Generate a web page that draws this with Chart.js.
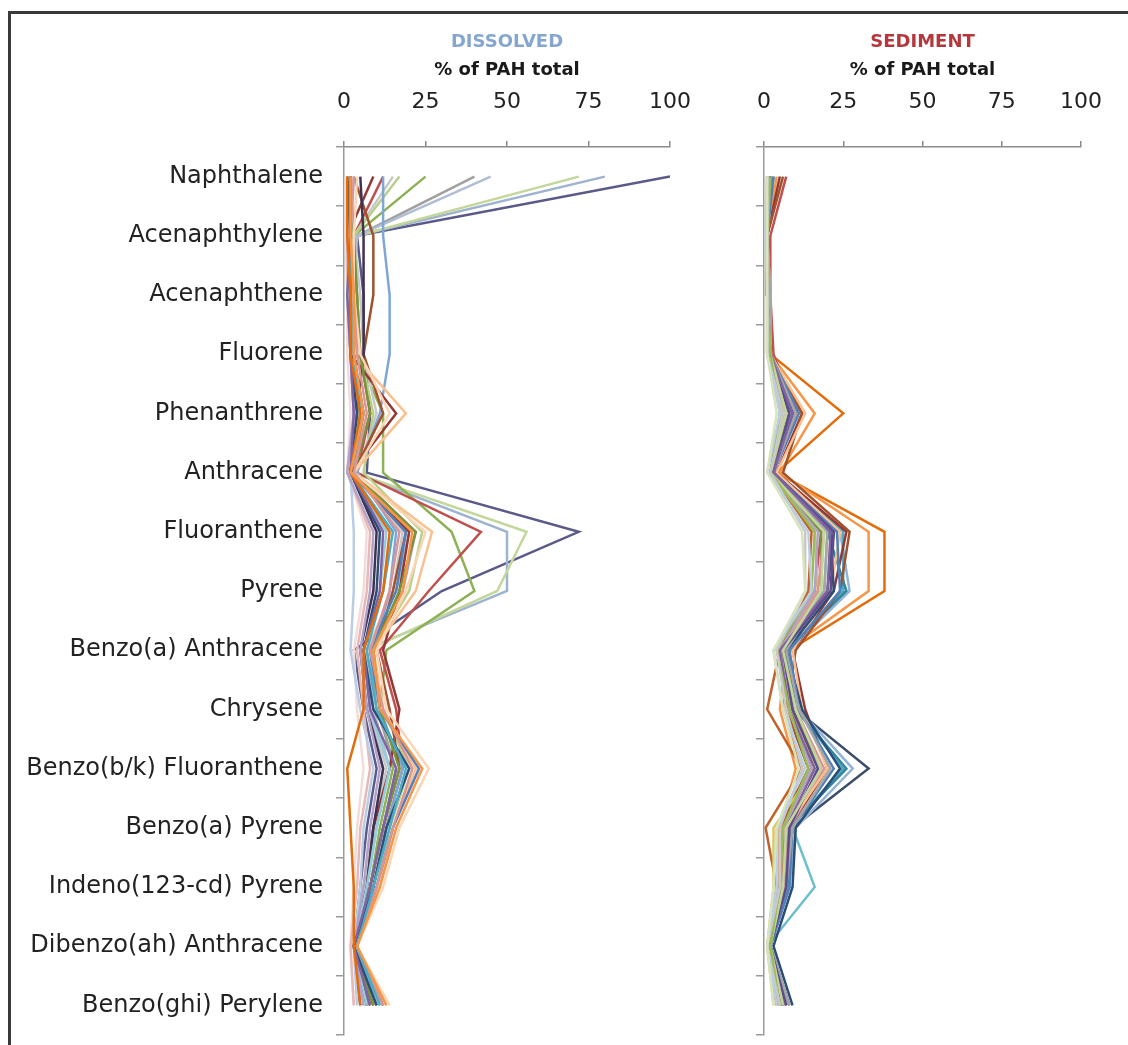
<!DOCTYPE html>
<html><head><meta charset="utf-8">
<script src="https://cdn.jsdelivr.net/npm/chart.js@4.4.0/dist/chart.umd.min.js"></script>
<style>
html,body{margin:0;padding:0;background:#fff;}
#wrap{position:relative;width:1128px;height:1045px;overflow:hidden;background:#fff;}
#frame{position:absolute;left:8px;top:11px;width:1130px;height:1040px;border-top:3px solid #3a3a3a;border-left:3px solid #3a3a3a;box-sizing:border-box;pointer-events:none;}
canvas{position:absolute;top:0;}
#c1{left:0;} #c2{left:720px;}
</style></head><body>
<div id="wrap">
<canvas id="c1" width="720" height="1045"></canvas>
<canvas id="c2" width="408" height="1045"></canvas>
<div id="frame"></div>
</div>
<script>
// ---------- DATA ----------
const categories = ["Naphthalene","Acenaphthylene","Acenaphthene","Fluorene","Phenanthrene","Anthracene","Fluoranthene","Pyrene","Benzo(a) Anthracene","Chrysene","Benzo(b/k) Fluoranthene","Benzo(a) Pyrene","Indeno(123-cd) Pyrene","Dibenzo(ah) Anthracene","Benzo(ghi) Perylene"];
const xTicks = [0, 25, 50, 75, 100];
const panelTitles = ["DISSOLVED", "SEDIMENT"];
const axisTitle = "% of PAH total";

// dissolved samples (% of PAH total per compound)
const dissolvedRows = [
  [2, 2, 3, 3, 6, 2, 21, 18, 9, 11, 24, 16, 11, 4, 13],
  [1, 1, 2, 2, 5, 2, 14, 12, 6, 6, 1, 2, 3, 3, 5],
  [2, 2, 1, 2, 3, 2, 12, 11, 6, 8, 16, 12, 8, 3, 8],
  [2, 2, 2, 3, 5, 2, 15, 12, 7, 10, 19, 14, 9, 4, 11],
  [1, 2, 2, 2, 4, 2, 11, 10, 6, 9, 20, 13, 9, 3, 10],
  [3, 2, 3, 4, 7, 3, 17, 14, 8, 12, 21, 15, 10, 4, 12],
  [4, 3, 3, 5, 14, 3, 25, 19, 10, 13, 26, 17, 12, 4, 14],
  [2, 1, 2, 2, 3, 1, 9, 8, 5, 7, 11, 8, 6, 3, 6],
  [1, 2, 1, 2, 4, 2, 13, 11, 6, 8, 14, 10, 7, 3, 7],
  [2, 2, 2, 3, 6, 2, 19, 16, 8, 11, 23, 15, 10, 4, 12],
  [3, 2, 2, 2, 3, 2, 3, 3, 2, 5, 9, 6, 5, 3, 4],
  [1, 1, 1, 2, 3, 1, 8, 7, 4, 6, 8, 5, 4, 2, 3],
  [2, 3, 4, 5, 8, 3, 22, 17, 9, 11, 17, 12, 8, 3, 9],
  [0.5, 0.5, 1, 1, 2, 1, 7, 6, 3, 4, 6, 4, 3, 2, 3],
  [5, 6, 6, 6, 4, 2, 10, 9, 5, 7, 12, 9, 7, 3, 7],
  [1, 1, 2, 3, 19, 3, 27, 22, 9, 12, 22, 15, 11, 4, 12],
  [3, 9, 9, 6, 12, 3, 19, 15, 10, 14, 17, 12, 8, 3, 9],
  [9, 1, 1, 2, 16, 2, 20, 17, 12, 17, 14, 9, 7, 3, 8],
  [12, 12, 14, 14, 11, 4, 16, 14, 9, 11, 18, 13, 9, 4, 10],
  [17, 3, 4, 5, 9, 6, 24, 20, 9, 12, 20, 14, 10, 4, 11],
  [15, 3, 5, 6, 10, 4, 18, 15, 7, 8, 13, 9, 6, 3, 7],
  [45, 4, 2, 3, 5, 2, 20, 16, 7, 9, 14, 10, 7, 3, 8],
  [40, 4, 3, 3, 6, 3, 22, 18, 8, 10, 16, 12, 8, 3, 9],
  [12, 3, 4, 5, 8, 4, 42, 26, 11, 16, 18, 13, 9, 4, 10],
  [25, 3, 3, 4, 12, 12, 33, 40, 13, 11, 15, 11, 8, 3, 8],
  [72, 4, 2, 2, 4, 3, 56, 47, 7, 9, 14, 10, 7, 3, 7],
  [80, 4, 3, 3, 5, 3, 50, 50, 6, 8, 12, 9, 6, 3, 6],
  [100, 4, 6, 6, 8, 7, 72, 30, 3, 6, 10, 7, 5, 3, 5]
];

// sediment samples (% of PAH total per compound)
const sedimentRows = [
  [1, 1, 1, 1, 4, 1, 12, 13, 3, 6, 11, 4, 3, 1, 3],
  [1, 0.5, 1, 1, 5, 1, 14, 15, 3, 6, 13, 4, 4, 1, 4],
  [1, 1, 1, 1, 6, 2, 13, 13, 4, 7, 12, 5, 5, 1, 5],
  [2, 1, 1, 2, 5, 2, 16, 15, 4, 8, 14, 6, 5, 2, 5],
  [1, 1, 1, 2, 7, 2, 19, 18, 6, 10, 18, 7, 6, 2, 6],
  [2, 1, 1, 2, 9, 3, 21, 20, 5, 8, 16, 7, 6, 2, 6],
  [1, 1, 1, 2, 8, 3, 22, 21, 6, 9, 17, 8, 7, 2, 7],
  [2, 1, 2, 2, 10, 3, 20, 19, 7, 11, 21, 9, 7, 2, 8],
  [3, 1, 1, 2, 11, 3, 23, 24, 8, 11, 22, 9, 8, 2, 8],
  [2, 1, 1, 2, 9, 3, 21, 22, 7, 12, 24, 10, 9, 3, 9],
  [3, 1, 2, 2, 13, 4, 24, 21, 9, 12, 20, 7, 6, 2, 7],
  [2, 1, 1, 2, 11, 3, 19, 17, 6, 10, 19, 8, 6, 2, 6],
  [1, 1, 1, 1, 7, 2, 17, 16, 5, 8, 15, 6, 5, 1, 5],
  [2, 1, 1, 2, 8, 2, 18, 18, 6, 9, 18, 7, 7, 2, 8],
  [1, 1, 1, 2, 6, 2, 16, 17, 5, 9, 16, 3, 3, 1, 3],
  [6, 1, 1, 2, 12, 6, 27, 24, 10, 7, 14, 5, 5, 2, 6],
  [2, 1, 1, 2, 9, 3, 20, 26, 7, 10, 26, 8, 8, 2, 7],
  [7, 2, 2, 3, 10, 3, 18, 16, 5, 9, 15, 6, 5, 2, 6],
  [5, 1, 1, 2, 12, 4, 26, 22, 9, 13, 20, 8, 7, 2, 7],
  [1, 1, 1, 1, 6, 2, 15, 14, 5, 1, 12, 0.5, 4, 1, 4],
  [2, 1, 1, 2, 7, 2, 20, 19, 5, 9, 17, 9, 16, 1, 5],
  [3, 1, 1, 2, 10, 3, 25, 25, 7, 10, 25, 8, 7, 2, 7],
  [2, 1, 2, 2, 8, 3, 24, 27, 8, 11, 28, 10, 8, 2, 7],
  [2, 1, 1, 2, 9, 3, 22, 20, 6, 10, 33, 9, 6, 2, 6],
  [4, 1, 2, 2, 16, 5, 33, 33, 7, 5, 10, 5, 5, 2, 5],
  [3, 1, 1, 2, 25, 4, 38, 38, 8, 6, 12, 6, 6, 2, 6]
];

// ---------- STYLE ----------
const dissolvedColors = ["#F79646","#E46C0A","#8064A2","#4BACC6","#2C4D75","#D99694","#FCD5B5","#B3A2C7","#93CDDD","#4F81BD","#B9CDE5","#E6B9B8","#77933C","#F2DCDB","#403152","#FAC090","#A0522D","#953735","#7FA7D6","#B8D08A","#C8C8C8","#B0BED4","#A0A0A0","#C0504D","#8DB255","#C4D79B","#9DB3D0","#5A5A8A"];
const sedimentColors = ["#D7E4BD","#B9CDE5","#C9C9C9","#9BBB59","#C4D79B","#8064A2","#5F4B8B","#A6A6A6","#4F81BD","#2C4D75","#FAC090","#D99694","#B3A2C7","#77933C","#D8C860","#A0522D","#31859C","#C0504D","#953735","#C0622A","#6FBDD1","#4BACC6","#93B4D8","#3C4E6A","#F79646","#E46C0A"];

Chart.defaults.font.family = "'DejaVu Sans', sans-serif";
Chart.defaults.animation = false;

function makePanel(id, title, titleColor, rows, colors, showLabels, padRight) {
  const datasets = rows.map((r, i) => ({
    data: r,
    borderColor: colors[i % colors.length],
    borderWidth: 2.5,
    pointRadius: 0,
    pointHoverRadius: 0,
    tension: 0,
    fill: false
  }));
  return new Chart(document.getElementById(id), {
    type: 'line',
    data: { labels: categories, datasets },
    options: {
      indexAxis: 'y',
      responsive: false,
      devicePixelRatio: 1,
      events: [],
      layout: { padding: { left: 0, right: padRight, top: 0, bottom: 10 } },
      plugins: {
        legend: { display: false },
        tooltip: { enabled: false },
        title: {
          display: true, text: title, color: titleColor, fullSize: false,
          font: { size: 18, weight: 'bold', lineHeight: 1 },
          padding: { top: 33, bottom: 0 }
        },
        subtitle: {
          display: true, text: axisTitle, color: '#1a1a1a', fullSize: false,
          font: { size: 18, weight: 'bold', lineHeight: 1 },
          padding: { top: 10, bottom: 0 }
        }
      },
      scales: {
        x: {
          type: 'linear', position: 'top', min: 0, max: 100,
          afterBuildTicks: (s) => { s.ticks = xTicks.map(v => ({ value: v })); },
          afterFit: (s) => { s.height = 68; },
          ticks: { color: '#222', font: { size: 22 }, padding: 26, maxRotation: 0 },
          grid: { drawOnChartArea: false, tickLength: 6, color: '#8a8a8a', lineWidth: 1.5 },
          border: { color: '#8a8a8a', width: 1.5 }
        },
        y: {
          type: 'category', offset: true,
          afterFit: (s) => { s.width = showLabels ? 344 : 44; s.paddingTop = 0; s.paddingBottom = 0; },
          ticks: { display: showLabels, color: '#222', font: { size: 24 }, padding: 13, autoSkip: false },
          grid: { offset: true, drawOnChartArea: false, tickLength: 8, color: '#9a9a9a', lineWidth: 1.5 },
          border: { color: '#9a9a9a', width: 1.5 }
        }
      }
    }
  });
}

makePanel('c1', panelTitles[0], '#84A6CF', dissolvedRows, dissolvedColors, true, 50);
makePanel('c2', panelTitles[1], '#B3373D', sedimentRows, sedimentColors, false, 38);
</script>
</body></html>
